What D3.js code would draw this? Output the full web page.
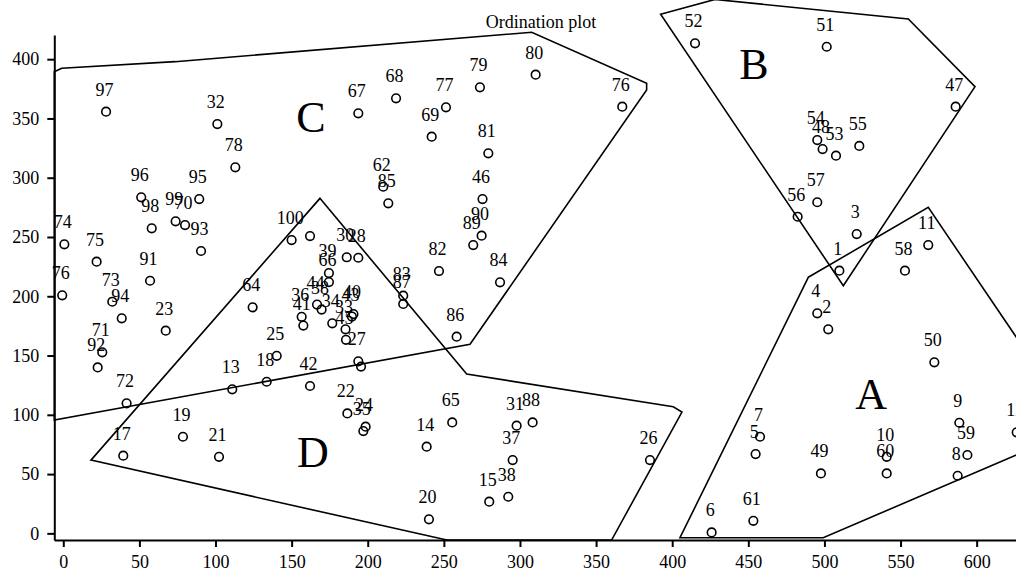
<!DOCTYPE html>
<html>
<head>
<meta charset="utf-8">
<script src="https://cdn.jsdelivr.net/npm/d3@7"></script>
<style>
body{margin:0;background:#fff;}
svg{display:block;font-family:"Liberation Serif","Times New Roman",serif;}
</style>
</head>
<body>
<svg id="chart"></svg>
<script>
// site labels and ordination scores
var labels = ["1","2","3","4","5","6","7","8","9","10","11","12","13","14","15","17","18","19","20","21",
  "22","23","24","25","26","27","28","30","31","32","34","35","36","33","37","38","38","39","40","41",
  "42","43","44","45","46","47","48","49","50","51","52","53","54","55","56","57","58","59","60","61",
  "62","64","65","66","67","68","69","70","71","72","73","74","75","76","76","77","78","79","80","81",
  "82","83","84","85","86","87","88","89","90","91","92","93","94","95","96","97","98","99","100","",""];
var xs = [509.8,502.5,521.2,495.3,454.8,425.9,457.7,587.5,588.6,540.9,568.2,626.3,111.0,238.7,279.8,39.4,133.6,78.6,240.2,102.3,
  186.6,67.3,198.6,140.2,385.4,193.8,193.8,186.2,297.8,101.2,176.7,197.1,156.6,185.4,295.2,292.3,169.7,174.5,190.6,157.7,
  162.1,189.6,166.7,185.7,275.4,586.2,498.8,497.7,572.2,501.5,415.0,507.6,495.3,522.9,482.4,495.3,552.9,593.9,540.9,453.3,
  210.2,124.4,255.5,174.5,193.8,218.6,242.0,80.0,25.6,41.6,32.2,0.7,21.9,-0.7,367.2,251.4,113.0,273.7,310.3,279.2,
  246.8,223.3,286.9,213.5,258.4,223.3,308.3,269.3,274.8,57.0,22.6,90.5,38.4,89.3,51.2,28.1,58.1,73.8,150.0,162.1,195.6];
var ys = [221.6,172.1,252.5,185.6,66.9,0.8,81.5,48.6,93.3,64.6,243.2,85.2,121.5,73.1,26.7,65.5,127.9,81.5,11.8,64.6,
  101.2,171.0,90.0,149.8,61.8,145.1,232.5,232.9,90.8,345.3,177.2,86.3,182.7,172.1,61.8,30.9,188.8,219.6,185.0,175.3,
  124.3,182.9,193.0,163.3,282.0,359.9,324.2,50.6,144.3,410.5,413.4,318.6,331.8,326.8,267.1,279.3,221.6,66.1,50.6,10.6,
  292.4,190.7,93.6,212.0,354.3,367.0,334.6,260.1,152.7,109.7,195.4,243.8,229.2,200.8,359.9,359.4,308.8,376.3,386.9,320.6,
  221.3,200.5,211.8,278.4,165.9,193.5,93.6,243.2,251.1,213.1,140.0,238.2,181.4,282.0,283.5,355.7,257.3,263.2,247.4,250.8,140.7];

// group outlines
var hullA_x = [489.4,568.2,644.9,644.9,499.2,405.1];
var hullA_y = [216.0,275.0,129.8,76.5,-3.7,-3.7];
var hullB_x = [392.4,428.1,555.1,598.9,512.4];
var hullB_y = [437.9,450.4,433.9,376.8,208.9];
var hullC_x = [-5.9,-1.05,73.4,307.7,383.2,383.2,267.2,-5.9];
var hullC_y = [389.4,392.3,397.9,422.7,379.7,374.0,159.5,95.6];
var hullD_x = [168.6,265.0,400.7,406.4,360.2,252.0,18.2];
var hullD_y = [282.6,134.4,106.8,102.3,-5.65,-5.65,61.8];

var groupNames = ["A","B","C","D"];
var groupX = [530.6,453.7,162.7,164.0];
var groupY = [104.9,383.0,338.8,56.2];

var xTicks = [0,50,100,150,200,250,300,350,400,450,500,550,600];
var yTicks = [0,50,100,150,200,250,300,350,400];

var width = 1016, height = 575;
var svg = d3.select("#chart").attr("width", width).attr("height", height);

var x = d3.scaleLinear().domain([-5.9, 626.3]).range([54.3, 1016.7]);
var y = d3.scaleLinear().domain([-5.6, 420.4]).range([540, 35]);

// axes
var xAxis = svg.append("g")
    .attr("transform", "translate(0,540)")
    .call(d3.axisBottom(x).tickValues(xTicks).tickSize(7).tickSizeOuter(0).tickPadding(8));
var yAxis = svg.append("g")
    .attr("transform", "translate(54.3,0)")
    .call(d3.axisLeft(y).tickValues(yTicks).tickSize(7).tickSizeOuter(0).tickPadding(8));
[xAxis, yAxis].forEach(function(g) {
    g.attr("font-family", "Liberation Serif").attr("font-size", 18);
    g.selectAll("path,line").attr("stroke", "#000").attr("stroke-width", 2);
    g.selectAll("text").attr("fill", "#000");
});

svg.append("text")
    .attr("x", 541).attr("y", 28)
    .attr("text-anchor", "middle")
    .attr("font-size", 18)
    .text("Ordination plot");

// hull polygons
var hulls = [[hullA_x, hullA_y], [hullB_x, hullB_y], [hullC_x, hullC_y], [hullD_x, hullD_y]];
var line = d3.line()
    .x(function(d) { return x(d[0]); })
    .y(function(d) { return y(d[1]); });
svg.selectAll("path.hull")
    .data(hulls)
    .enter()
    .append("path")
    .attr("class", "hull")
    .attr("d", function(h) { return line(d3.zip(h[0], h[1])) + "Z"; })
    .attr("fill", "none")
    .attr("stroke", "#000")
    .attr("stroke-width", 1.6)
    .attr("stroke-linejoin", "miter");

var pts = d3.range(labels.length).map(function(i) {
    return {label: labels[i], x: xs[i], y: ys[i]};
});

svg.selectAll("circle.site")
    .data(pts)
    .enter()
    .append("circle")
    .attr("class", "site")
    .attr("cx", function(d) { return x(d.x); })
    .attr("cy", function(d) { return y(d.y); })
    .attr("r", 4.3)
    .attr("fill", "none")
    .attr("stroke", "#000")
    .attr("stroke-width", 1.6);

svg.selectAll("text.site")
    .data(pts)
    .enter()
    .append("text")
    .attr("class", "site")
    .attr("x", function(d) { return x(d.x) - 1.5; })
    .attr("y", function(d) { return y(d.y) - 16; })
    .attr("text-anchor", "middle")
    .attr("font-size", 18)
    .text(function(d) { return d.label; });

svg.selectAll("text.group")
    .data(groupNames)
    .enter()
    .append("text")
    .attr("class", "group")
    .attr("x", function(d, i) { return x(groupX[i]); })
    .attr("y", function(d, i) { return y(groupY[i]); })
    .attr("text-anchor", "middle")
    .attr("font-size", 44)
    .text(function(d) { return d; });
</script>
</body>
</html>
